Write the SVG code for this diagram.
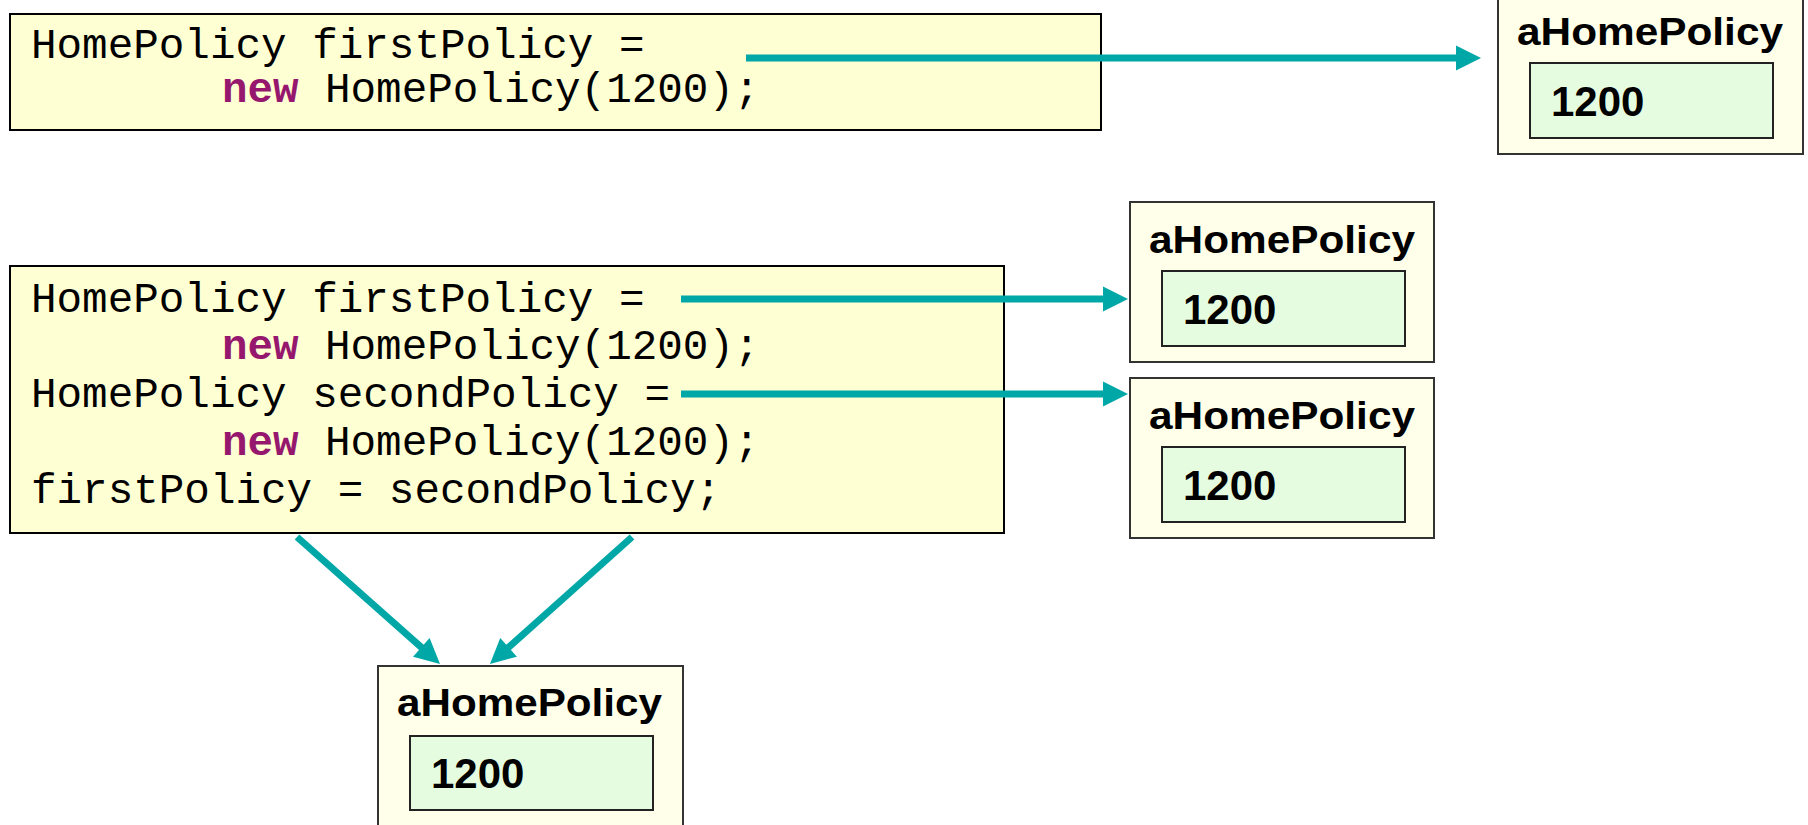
<svg xmlns="http://www.w3.org/2000/svg" width="1808" height="825" viewBox="0 0 1808 825">
<style>
.code{fill:#FFFFD4;stroke:#000;stroke-width:2}
.obj{fill:#FFFFEA;stroke:#333;stroke-width:2}
.val{fill:#E6FCE0;stroke:#222;stroke-width:2}
.mono{font-family:"Liberation Mono","Courier New",monospace;font-size:42.6px;fill:#000}
.kw{font-weight:bold;fill:#96186E}
.title{font-family:"Liberation Sans",Arial,Helvetica,sans-serif;font-weight:bold;font-size:39px;fill:#000}
.num{font-family:"Liberation Sans",Arial,Helvetica,sans-serif;font-weight:bold;font-size:42px;fill:#000}
.arrow{stroke:#00A7A7;stroke-width:7;fill:none;marker-end:url(#ah)}
</style>
<defs>
<marker id="ah" markerUnits="userSpaceOnUse" markerWidth="25" markerHeight="25" refX="2" refY="12.5" orient="auto" overflow="visible">
<path d="M0,0 L25,12.5 L0,25 z" fill="#00A7A7"/>
</marker>
</defs>
<rect width="1808" height="825" fill="#fff"/>

<g id="code1">
<rect class="code" x="10" y="14" width="1091" height="116"/>
<text class="mono" x="31" y="58">HomePolicy firstPolicy =</text>
<text class="mono" y="102"><tspan class="kw" x="222">new</tspan><tspan x="325">HomePolicy(1200);</tspan></text>
</g>

<g id="obj1">
<rect class="obj" x="1498" y="-6" width="305" height="160"/>
<text class="title" x="1517" y="45" textLength="266" lengthAdjust="spacingAndGlyphs">aHomePolicy</text>
<rect class="val" x="1530" y="63" width="243" height="75"/>
<text class="num" x="1551" y="116">1200</text>
</g>

<g id="code2">
<rect class="code" x="10" y="266" width="994" height="267"/>
<text class="mono" x="31" y="312">HomePolicy firstPolicy =</text>
<text class="mono" y="359"><tspan class="kw" x="222">new</tspan><tspan x="325">HomePolicy(1200);</tspan></text>
<text class="mono" x="31" y="407">HomePolicy secondPolicy =</text>
<text class="mono" y="455"><tspan class="kw" x="222">new</tspan><tspan x="325">HomePolicy(1200);</tspan></text>
<text class="mono" x="31" y="503">firstPolicy = secondPolicy;</text>
</g>

<g id="obj2">
<rect class="obj" x="1130" y="202" width="304" height="160"/>
<text class="title" x="1149" y="253" textLength="266" lengthAdjust="spacingAndGlyphs">aHomePolicy</text>
<rect class="val" x="1162" y="271" width="243" height="75"/>
<text class="num" x="1183" y="324">1200</text>
</g>

<g id="obj3">
<rect class="obj" x="1130" y="378" width="304" height="160"/>
<text class="title" x="1149" y="429" textLength="266" lengthAdjust="spacingAndGlyphs">aHomePolicy</text>
<rect class="val" x="1162" y="447" width="243" height="75"/>
<text class="num" x="1183" y="500">1200</text>
</g>

<g id="obj4">
<rect class="obj" x="378" y="666" width="305" height="160"/>
<text class="title" x="397" y="716" textLength="265" lengthAdjust="spacingAndGlyphs">aHomePolicy</text>
<rect class="val" x="410" y="736" width="243" height="74"/>
<text class="num" x="431" y="788">1200</text>
</g>

<g id="connectors">
<line class="arrow" x1="746" y1="58" x2="1458" y2="58"/>
<line class="arrow" x1="681" y1="299" x2="1105" y2="299"/>
<line class="arrow" x1="681" y1="394" x2="1105" y2="394"/>
<line class="arrow" x1="297" y1="537" x2="422.8" y2="648.7"/>
<line class="arrow" x1="632" y1="537" x2="507.1" y2="648.7"/>
</g>
</svg>
